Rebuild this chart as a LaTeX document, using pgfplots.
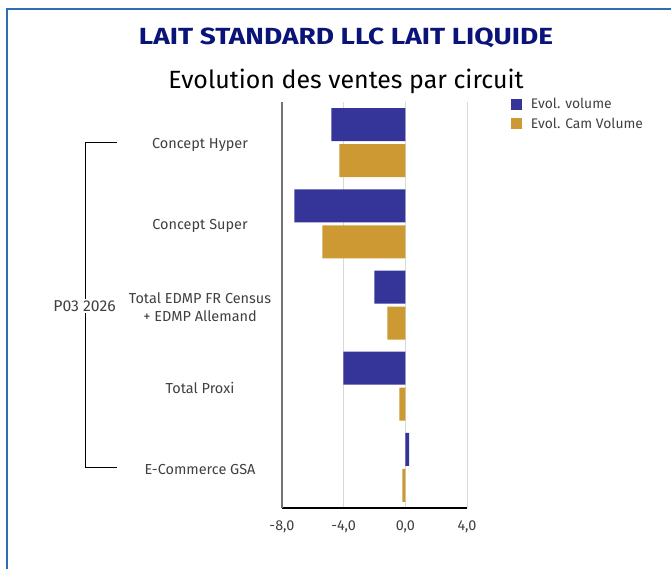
\documentclass[border=0pt]{standalone}
\usepackage{fontspec}
\setmainfont{Fira Sans}
\newfontfamily\titlefont{Fira Sans}[FakeStretch=1.2]
\usepackage{pgfplots}
\pgfplotsset{compat=1.18}
\definecolor{cvol}{RGB}{52,52,153}
\definecolor{ccam}{RGB}{204,153,51}
\definecolor{navy}{RGB}{10,20,120}
\definecolor{frameblue}{RGB}{46,110,180}
\definecolor{lbl}{RGB}{64,64,64}
\begin{document}
\begin{tikzpicture}
\useasboundingbox (0,0) rectangle (503.25pt,426pt);
\draw[frameblue, line width=1.5pt] (4.875pt,418.875pt) rectangle (530pt,-20pt);
\node[anchor=base, font=\titlefont\fontsize{17.5}{20}\selectfont\bfseries, text=navy] at (259.5pt,392.25pt) {LAIT STANDARD LLC LAIT LIQUIDE};
\node[anchor=base, font=\fontsize{18.7}{22}\selectfont, text=black] at (259.5pt,359.25pt) {Evolution des ventes par circuit};
\begin{axis}[
  at={(211.5pt,45pt)}, anchor=south west,
  scale only axis, width=138.75pt, height=304.5pt,
  xbar, bar width=24.75pt,
  xmin=-8, xmax=4, ymin=-0.5, ymax=4.5,
  xtick={-8,-4,0,4}, xticklabels={{-8,0},{-4,0},{0,0},{4,0}},
  ytick={0,1,2,3,4},
  yticklabels={E-Commerce GSA, Total Proxi, {Total EDMP FR Census\\+ EDMP Allemand}, Concept Super, Concept Hyper},
  yticklabel style={anchor=center, xshift=-61.5pt, yshift=-1.5pt, align=center, font=\fontsize{10.85}{13}\selectfont, text=lbl},
  xticklabel style={font=\fontsize{10.8}{12}\selectfont, text=lbl, yshift=-6pt},
  major tick length=0pt,
  xmajorgrids, grid style={draw=black!15, line width=0.75pt},
  axis x line*=bottom, axis y line*=left,
  x axis line style={black, line width=0.9pt, -},
  y axis line style={black!55, line width=1.2pt, -},
  clip=false,
  legend style={at={(1.216,1.022)}, anchor=north west, draw=none, fill=none,
    font=\fontsize{10.4}{12}\selectfont, text=lbl, row sep=2.5pt,
    nodes={inner sep=1.5pt}},
  legend cell align=left,
  legend image code/.code={\fill[#1] (0pt,-4.1pt) rectangle (8.25pt,4.1pt);},
]
\addplot[draw=none, fill=cvol, bar shift=13.5pt] coordinates {(0.24,0) (-4.02,1) (-2.01,2) (-7.20,3) (-4.80,4)};
\addplot[draw=none, fill=ccam, bar shift=-13.5pt] coordinates {(-0.19,0) (-0.39,1) (-1.17,2) (-5.38,3) (-4.28,4)};
\legend{\hspace{5pt}Evol. volume, \hspace{5pt}Evol. Cam Volume}
\end{axis}
\draw[black, line width=0.75pt] (87.75pt,318.75pt) -- (63.75pt,318.75pt) -- (63.75pt,75.75pt) -- (87.75pt,75.75pt);
\node[fill=white, inner sep=1pt, font=\fontsize{11.8}{13}\selectfont, text=lbl] at (63.4pt,196.5pt) {P03 2026};
\end{tikzpicture}
\end{document}
